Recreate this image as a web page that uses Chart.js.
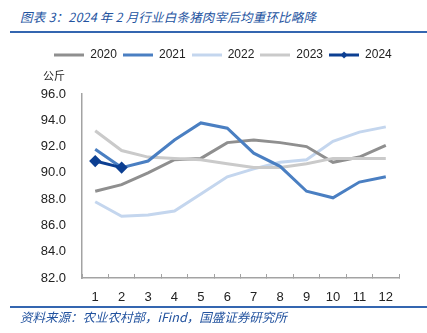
<!DOCTYPE html>
<html>
<head>
<meta charset="utf-8">
<script src="https://cdn.jsdelivr.net/npm/chart.js@4/dist/chart.umd.min.js"></script>
<style>
  html, body { margin: 0; padding: 0; background: #fff; }
  #wrap { position: relative; width: 427px; height: 333px; overflow: hidden; }
  #myChart { position: absolute; left: 0; top: 0; }
  .caption { position: absolute; left: 20px; font-family: "Noto Sans CJK SC", sans-serif; font-style: italic; color: #23539f; white-space: nowrap; }
  #title { top: 7px; font-size: 12.5px; letter-spacing: 0.2px; }
  #source { top: 307px; font-size: 12.5px; }
  .rule { position: absolute; left: 10px; right: 0; height: 2px; background: #3466b0; }
  #unit { position: absolute; left: 43px; top: 67px; font-family: "Noto Sans CJK SC", sans-serif; font-size: 11px; color: #222; }
</style>
</head>
<body>
<div id="wrap">
  <div id="title" class="caption">图表 3：2024 年 2 月行业白条猪肉宰后均重环比略降</div>
  <div class="rule" style="top:31px"></div>
  <canvas id="myChart" width="427" height="333"></canvas>
  <div id="unit">公斤</div>
  <div class="rule" style="top:306px"></div>
  <div id="source" class="caption">资料来源：农业农村部，iFind，国盛证券研究所</div>
</div>
<script>
// months on the x axis
const months = ['1', '2', '3', '4', '5', '6', '7', '8', '9', '10', '11', '12'];

// average carcass weight after slaughter, kg
const weight_2020 = [88.6, 89.1, 90.0, 91.0, 91.1, 92.3, 92.5, 92.3, 92.0, 90.8, 91.2, 92.1];
const weight_2021 = [91.8, 90.4, 90.9, 92.5, 93.8, 93.4, 91.5, 90.5, 88.6, 88.1, 89.3, 89.7];
const weight_2022 = [87.8, 86.7, 86.8, 87.1, 88.4, 89.7, 90.3, 90.8, 91.0, 92.4, 93.1, 93.5];
const weight_2023 = [93.2, 91.7, 91.2, 91.1, 91.0, 90.7, 90.4, 90.4, 90.7, 91.1, 91.1, 91.1];
const weight_2024 = [90.9, 90.4];

const y_ticks = [82, 84, 86, 88, 90, 92, 94, 96];

const line_colors = {
	c2020: '#8f8f8f',
	c2021: '#4a7fc2',
	c2022: '#c4d6ee',
	c2023: '#cacaca',
	c2024: '#0c3f92',
};

const axis_color = '#a3a3a3';
const tick_font = { family: '"Liberation Sans", Arial, sans-serif', size: 13 };

function series(label, values, color, order) {
	return {
		label: label,
		data: values,
		borderColor: color,
		backgroundColor: color,
		borderWidth: 3,
		pointRadius: 0,
		tension: 0,
		order: order,
	};
}

const datasets = [
	series('2020', weight_2020, line_colors.c2020, 3),
	series('2021', weight_2021, line_colors.c2021, 1),
	series('2022', weight_2022, line_colors.c2022, 4),
	series('2023', weight_2023, line_colors.c2023, 2),
	series('2024', weight_2024, line_colors.c2024, 0),
];
// 2024 has diamond markers
datasets[4].pointStyle = 'rectRot';
datasets[4].pointRadius = 4;
datasets[4].pointHoverRadius = 4;

// small line sample for the legend, with a diamond when the series has markers
function legendSwatch(color, marker) {
	const c = document.createElement('canvas');
	c.width = 30;
	c.height = 10;
	const ctx = c.getContext('2d');
	ctx.strokeStyle = color;
	ctx.lineWidth = 3;
	ctx.beginPath();
	ctx.moveTo(0, 5);
	ctx.lineTo(30, 5);
	ctx.stroke();
	if (marker) {
		ctx.fillStyle = color;
		ctx.beginPath();
		ctx.moveTo(15, 1.5);
		ctx.lineTo(18.5, 5);
		ctx.lineTo(15, 8.5);
		ctx.lineTo(11.5, 5);
		ctx.closePath();
		ctx.fill();
	}
	return c;
}

// leave room under the legend for the unit label, and push the row a bit right
const legendGap = {
	id: 'legendGap',
	beforeInit(chart) {
		const fit = chart.legend.fit;
		chart.legend.fit = function () {
			fit.call(this);
			this.height += 23;
			if (this.lineWidths) this.lineWidths[0] -= 6;
		};
	},
};

const config = {
	type: 'line',
	data: { labels: months, datasets: datasets },
	options: {
		responsive: false,
		animation: false,
		layout: { padding: { left: 41, right: 28, top: 43, bottom: 0 } },
		plugins: {
			tooltip: { enabled: false },
			legend: {
				position: 'top',
				labels: {
					usePointStyle: true,
					pointStyleWidth: 30,
					padding: 6,
					color: '#222',
					font: { family: '"Liberation Sans", Arial, sans-serif', size: 12 },
					generateLabels(chart) {
						return chart.data.datasets.map((ds, i) => ({
							text: ds.label,
							pointStyle: legendSwatch(ds.borderColor, ds.pointRadius > 0),
							fillStyle: 'transparent',
							strokeStyle: 'transparent',
							lineWidth: 0,
							fontColor: '#222',
							hidden: !chart.isDatasetVisible(i),
							datasetIndex: i,
						}));
					},
				},
			},
		},
		scales: {
			x: {
				offset: true,
				grid: { display: true, drawOnChartArea: false, offset: true, tickLength: -4, color: axis_color },
				border: { color: axis_color, width: 1.5 },
				ticks: { color: '#222', font: tick_font, padding: 16, maxRotation: 0 },
				afterFit(scale) { scale.height = 55; },
			},
			y: {
				min: 82,
				max: 96,
				afterBuildTicks(scale) { scale.ticks = y_ticks.map(v => ({ value: v })); },
				grid: { display: false },
				border: { color: axis_color, width: 1.5 },
				ticks: { color: '#222', font: tick_font, padding: 8, callback: v => v.toFixed(1) },
				afterFit(scale) { scale.width = 41; },
			},
		},
	},
	plugins: [legendGap],
};

var myChart = new Chart(document.getElementById('myChart'), config);
</script>
</body>
</html>
